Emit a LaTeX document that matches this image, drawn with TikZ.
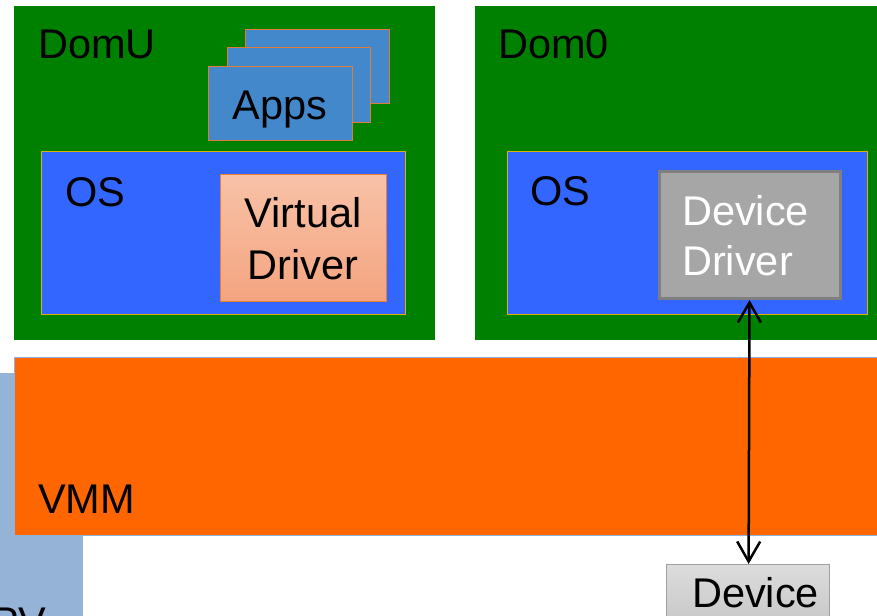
\documentclass[tikz,border=0pt]{standalone}
\usepackage{fontspec}
\setmainfont{Liberation Sans}
\usetikzlibrary{arrows.meta}
\definecolor{domgreen}{HTML}{008000}
\definecolor{osblue}{HTML}{3366FF}
\definecolor{osgold}{HTML}{E0B000}
\definecolor{appblue}{HTML}{4488CC}
\definecolor{apporange}{HTML}{E07B39}
\definecolor{vmmorange}{HTML}{FF6600}
\definecolor{vmmline}{HTML}{8DB4E2}
\definecolor{pvblue}{HTML}{95B3D7}
\definecolor{vdtop}{HTML}{F8C2A8}
\definecolor{vdbot}{HTML}{F4A47F}
\definecolor{vdline}{HTML}{ED7D31}
\definecolor{ddfill}{HTML}{A6A6A6}
\definecolor{ddline}{HTML}{7F7F7F}
\definecolor{devtop}{HTML}{DCDCDC}
\definecolor{devbot}{HTML}{C4C4C4}
\definecolor{devline}{HTML}{A0A0A0}
\tikzset{
  big/.style={font=\fontsize{41.5}{49}\selectfont, inner sep=0pt},
  dombox/.style={fill=domgreen, draw=none, inner sep=0pt},
  osbox/.style={fill=osblue, draw=osgold, line width=1pt, inner sep=0pt},
  appbox/.style={fill=appblue, draw=apporange, line width=1.2pt, inner sep=0pt},
  vmmbox/.style={fill=vmmorange, draw=vmmline, line width=1pt, inner sep=0pt},
  vdbox/.style={top color=vdtop, bottom color=vdbot, draw=vdline, line width=1.2pt, inner sep=0pt},
  ddbox/.style={fill=ddfill, draw=ddline, line width=3pt, inner sep=0pt},
  devbox/.style={top color=devtop, bottom color=devbot, draw=devline, line width=1.2pt, inner sep=0pt},
  link/.style={line width=2.5pt, {Straight Barb[length=20pt,width=23pt]}-{Straight Barb[length=20pt,width=23pt]}}
}
\begin{document}
\begin{tikzpicture}[x=1pt,y=-1pt]
\useasboundingbox (0,0) rectangle (877,615);
\clip (0,0) rectangle (877,615);
% PV background
\node[fill=pvblue, inner sep=0pt, minimum width=93pt, minimum height=250pt, anchor=north west] (pv) at (-10,373) {};
\node[big, anchor=base west] (pvlabel) at (-9,636) {PV};
% VMM
\node[vmmbox, minimum width=870pt, minimum height=178pt, anchor=north west] (vmm) at (14,357) {};
\node[big, anchor=base west] (vmmlabel) at (38,513) {VMM};
% DomU
\node[dombox, minimum width=421pt, minimum height=334pt, anchor=north west] (domu) at (14,6) {};
\node[big, anchor=base west] (domulabel) at (38,59) {DomU};
\node[appbox, minimum width=144pt, minimum height=74pt, anchor=north west] (app3) at (245,29) {};
\node[appbox, minimum width=143pt, minimum height=75pt, anchor=north west] (app2) at (227,47) {};
\node[appbox, minimum width=144pt, minimum height=74pt, anchor=north west] (app1) at (208,66) {};
\node[big, anchor=base] (appslabel) at (280,119) {Apps};
\node[osbox, minimum width=364pt, minimum height=163pt, anchor=north west] (osu) at (41,151) {};
\node[big, anchor=base west] (osulabel) at (65,206) {OS};
\node[vdbox, minimum width=166pt, minimum height=127pt, anchor=north west] (vd) at (220,174) {};
\node[big, anchor=base] (vd1) at (303,227) {Virtual};
\node[big, anchor=base] (vd2) at (303,279) {Driver};
% Dom0
\node[dombox, minimum width=410pt, minimum height=334pt, anchor=north west] (dom0) at (475,6) {};
\node[big, anchor=base west] (dom0label) at (498,59) {Dom0};
\node[osbox, minimum width=360pt, minimum height=163pt, anchor=north west] (os0) at (507,151) {};
\node[big, anchor=base west] (os0label) at (530,205) {OS};
\node[ddbox, minimum width=181pt, minimum height=127pt, anchor=north west] (dd) at (658,170) {};
\node[big, anchor=base west, text=white] (dd1) at (682,225) {Device};
\node[big, anchor=base west, text=white] (dd2) at (682,275) {Driver};
% Device
\node[devbox, minimum width=163pt, minimum height=70pt, anchor=north west] (dev) at (666,564) {};
\node[big, anchor=base west] (devlabel) at (692,607) {Device};
% connector
\draw[link] ([xshift=-0.5pt]dd.south) -- ([xshift=0.5pt]dev.north);
\end{tikzpicture}
\end{document}
